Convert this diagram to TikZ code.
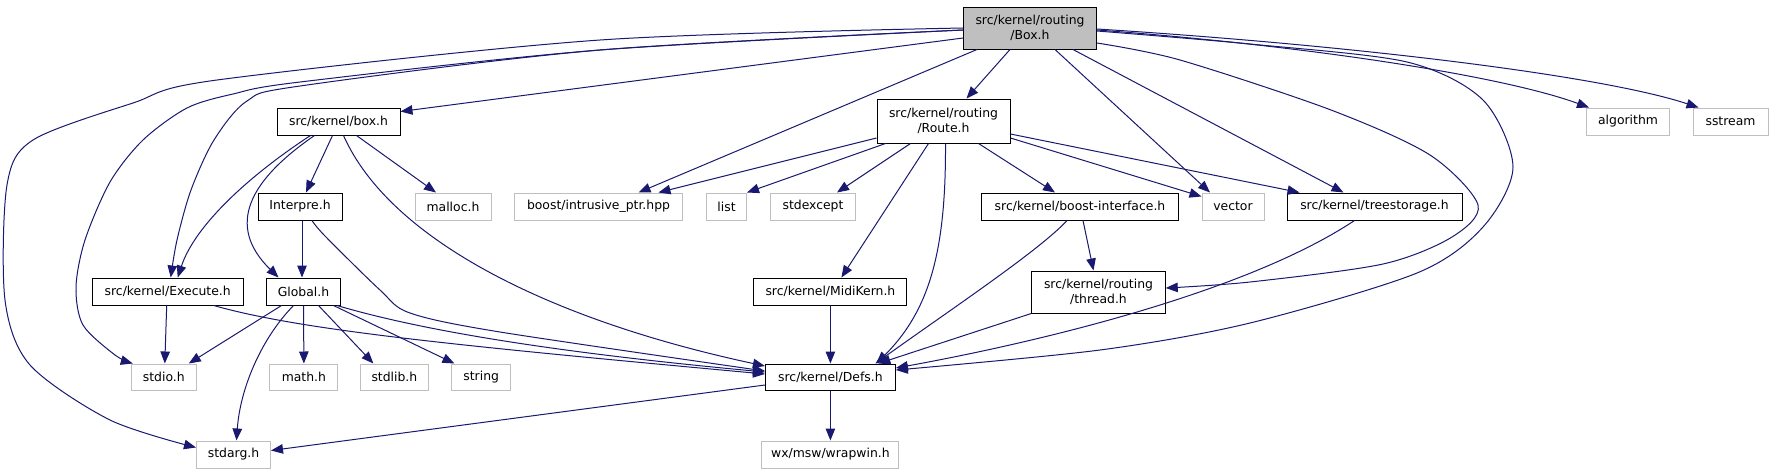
\documentclass[tikz,border=0pt]{standalone}
\usepackage{fontspec}
\setmainfont{DejaVu Sans}
\usetikzlibrary{arrows.meta,calc}
\definecolor{edgec}{HTML}{191970}
\definecolor{extc}{HTML}{BFBFBF}
\begin{document}
\begin{tikzpicture}[x=1pt,y=-1pt,
  nb/.style={draw=black,line width=1pt,inner sep=0pt,minimum height=27pt,align=center,font=\fontsize{12.4}{15}\selectfont},
  ex/.style={nb,draw=extc},
  e/.style={draw=edgec,line width=1pt,-{Triangle[length=12pt,width=9.5pt]}}
]
\useasboundingbox (0,0) rectangle (1773,475);
\fill[white] (0,0) rectangle (1773,475);
% nodes
\node[nb,fill=extc,minimum width=133pt,minimum height=42pt] (Box) at (1030,28) {src/kernel/routing\\/Box.h};
\node[nb,minimum width=123pt] (boxh) at (338.5,121.5) {src/kernel/box.h};
\node[nb,minimum width=133pt,minimum height=44pt] (Route) at (943.5,121) {src/kernel/routing\\/Route.h};
\node[nb,minimum width=84pt] (Interpre) at (300,206.5) {Interpre.h};
\node[ex,minimum width=76pt] (malloc) at (453,206.5) {malloc.h};
\node[ex,minimum width=168pt] (intr) at (598.5,206.5) {boost/intrusive\_ptr.hpp};
\node[ex,minimum width=40pt] (list) at (726.5,206.5) {list};
\node[ex,minimum width=85pt] (stdexcept) at (813,206.5) {stdexcept};
\node[nb,minimum width=197pt] (boostif) at (1080,206.5) {src/kernel/boost-interface.h};
\node[ex,minimum width=62pt] (vector) at (1233,206.5) {vector};
\node[nb,minimum width=175pt] (tree) at (1374.5,206.5) {src/kernel/treestorage.h};
\node[ex,minimum width=83pt] (algo) at (1628,121.5) {algorithm};
\node[ex,minimum width=75pt] (sstream) at (1730.5,121.5) {sstream};
\node[nb,minimum width=151pt] (Exec) at (167.7,291.5) {src/kernel/Execute.h};
\node[nb,minimum width=74pt] (Global) at (303.5,291.5) {Global.h};
\node[nb,minimum width=153pt] (Midi) at (830.4,291.5) {src/kernel/MidiKern.h};
\node[nb,minimum width=133.5pt,minimum height=42pt] (thread) at (1098.5,292) {src/kernel/routing\\/thread.h};
\node[ex,minimum width=65pt,minimum height=26pt] (stdio) at (163.8,377) {stdio.h};
\node[ex,minimum width=68pt,minimum height=26pt] (math) at (303.9,377) {math.h};
\node[ex,minimum width=68pt,minimum height=26pt] (stdlib) at (394.4,377) {stdlib.h};
\node[ex,minimum width=58.5pt,minimum height=26pt] (string) at (481.2,377) {string};
\node[nb,minimum width=130pt,minimum height=26pt] (Defs) at (830.4,377) {src/kernel/Defs.h};
\node[ex,minimum width=74pt] (stdarg) at (233.5,454.5) {stdarg.h};
\node[ex,minimum width=137pt] (wrap) at (830.4,454.5) {wx/msw/wrapwin.h};
% helper coordinates
\coordinate (Bw0) at (Box.west);
\coordinate (Bw2) at ($(Box.west)+(0,2)$);
\coordinate (Be3) at ($(Box.east)+(0,3)$);
\coordinate (Be15) at ($(Box.east)+(0,15)$);
\coordinate (Te) at ($(thread.east)+(0,-4)$);
\coordinate (De7) at ($(Defs.east)+(0,-7)$);
\coordinate (En) at ($(Exec.north)+(3,0)$);
\coordinate (Snw) at ($(stdio.north west)+(2,0)$);
\coordinate (Aw) at ($(stdarg.west)+(0,-7)$);
\coordinate (Is) at ($(Interpre.south)+(12,0)$);
\coordinate (Dw6) at ($(Defs.west)+(0,-6)$);
% Box.h edges
\draw[e] ($(Box.west)+(0,10)$) -- ($(boxh.east)+(0,-10)$);
\draw[e] ($(Box.south)+(-20,0)$) -- ($(Route.north)+(23,0)$);
\draw[e] ($(Box.south)+(-53,0)$) -- ($(intr.north)+(40,0)$);
\draw[e] ($(Box.south)+(25,0)$) -- ($(vector.north)+(-23,0)$);
\draw[e] ($(Box.south)+(43,0)$) -- ($(tree.north)+(-31,0)$);
\draw[e] ($(Box.east)+(0,2)$) .. controls (1300,45) and (1500,75) .. ($(algo.north west)+(3,0)$);
\draw[e] ($(Box.east)+(0,1)$) .. controls (1350,45) and (1600,75) .. ($(sstream.north west)+(6,0)$);
\draw[e] plot[smooth] coordinates {(Be3) (1250,44) (1407,62) (1483,100) (1513,167) (1483,227) (1417,273) (1250,323) (1100,350) (De7)};
\draw[e] plot[smooth] coordinates {(Be15) (1180,60) (1331,110) (1430,155) (1478,205) (1452,237) (1383,264) (1250,282) (Te)};
\draw[e] plot[smooth] coordinates {(Bw2) (600,50) (300,86) (247,101) (214,140) (191,190) (177,240) (En)};
\draw[e] plot[smooth] coordinates {(Bw2) (600,50) (300,82) (233,94) (187,108) (143,140) (110,182) (85,240) (76,287) (83,325) (115,355) (Snw)};
\draw[e] plot[smooth] coordinates {(Bw0) (600,40) (217,80) (133,103) (33,140) (7,185) (5,300) (30,365) (110,420) (Aw)};
% Route.h edges
\draw[e] ($(Route.west)+(0,17)$) -- ($(intr.north)+(60,0)$);
\draw[e] ($(Route.south)+(-58,0)$) -- (list.north east);
\draw[e] ($(Route.south)+(-33,0)$) -- ($(stdexcept.north)+(24,0)$);
\draw[e] ($(Route.south)+(-15,0)$) -- ($(Midi.north)+(11,0)$);
\draw[e] ($(Route.south)+(2,0)$) .. controls (946,250) and (930,310) .. ($(Defs.north)+(46,0)$);
\draw[e] ($(Route.south)+(35,0)$) -- ($(boostif.north)+(-25,0)$);
\draw[e] ($(Route.east)+(0,17)$) -- ($(vector.west)+(0,-10)$);
\draw[e] ($(Route.east)+(0,13)$) -- ($(tree.north west)+(13,0)$);
% box.h edges
\draw[e] ($(boxh.south)+(-6,0)$) -- ($(Interpre.north)+(6,0)$);
\draw[e] ($(boxh.south)+(18,0)$) -- ($(malloc.north)+(-17,0)$);
\draw[e] ($(boxh.south)+(-28,0)$) .. controls (250,175) and (195,225) .. ($(Exec.north)+(10,0)$);
\draw[e] ($(boxh.south)+(-24,0)$) .. controls (250,180) and (225,225) .. ($(Global.north)+(-25,0)$);
\draw[e] ($(boxh.south)+(5,0)$) .. controls (390,240) and (550,320) .. ($(Defs.west)+(0,-11)$);
% Interpre.h edges
\draw[e] ($(Interpre.south)+(2,0)$) -- ($(Global.north)+(-1.5,0)$);
\draw[e] plot[smooth] coordinates {(Is) (325,236) (380,290) (410,313) (500,332) (Dw6)};
% Execute.h edges
\draw[e] ($(Exec.south)+(-1,0)$) -- ($(stdio.north)+(1,0)$);
\draw[e] ($(Exec.south)+(46,0)$) .. controls (300,330) and (450,345) .. ($(Defs.west)+(0,-3)$);
% Global.h edges
\draw[e] ($(Global.south)+(-22,0)$) -- ($(stdio.north east)+(-8,0)$);
\draw[e] (Global.south) -- (math.north);
\draw[e] ($(Global.south)+(15,0)$) -- ($(stdlib.north)+(-21,0)$);
\draw[e] ($(Global.south)+(30,0)$) -- ($(string.north west)+(3,0)$);
\draw[e] ($(Global.south)+(-10,0)$) .. controls (260,340) and (240,390) .. ($(stdarg.north)+(3,0)$);
\draw[e] ($(Global.south east)+(-4,0)$) .. controls (420,330) and (550,352) .. ($(Defs.west)+(0,-5)$);
% lower edges
\draw[e] ($(Defs.west)+(0,8)$) -- ($(stdarg.east)+(0,-4)$);
\draw[e] (Defs.south) -- (wrap.north);
\draw[e] (Midi.south) -- (Defs.north);
\draw[e] ($(boostif.south)+(3,0)$) -- ($(thread.north)+(-5,0)$);
\draw[e] ($(boostif.south)+(-13,0)$) .. controls (1040,250) and (950,310) .. ($(Defs.north)+(45,0)$);
\draw[e] (thread.south west) -- ($(Defs.north)+(48,0)$);
\draw[e] ($(tree.south)+(-20,0)$) .. controls (1250,290) and (1050,340) .. ($(Defs.east)+(0,-9)$);
\end{tikzpicture}
\end{document}
